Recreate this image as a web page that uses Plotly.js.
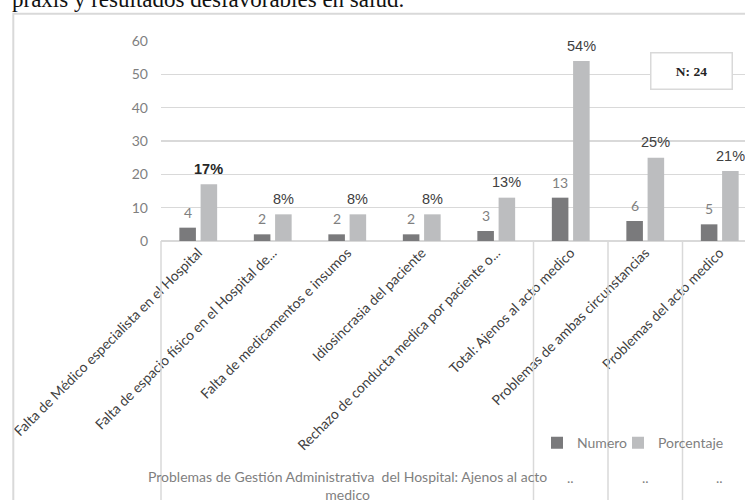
<!DOCTYPE html>
<html><head><meta charset="utf-8">
<script src="https://cdn.plot.ly/plotly-3.0.1.min.js"></script>
<style>html,body{margin:0;padding:0;background:#fff;overflow:hidden}#chart{width:745px;height:500px}</style>
</head><body><div id="chart"></div>
<script>
// ---- data ----
const categories = [
  "Falta de Médico especialista en el Hospital",
  "Falta de espacio físico en el Hospital de...",
  "Falta de medicamentos e insumos",
  "Idiosincrasia del paciente",
  "Rechazo de conducta medica por paciente o...",
  "Total: Ajenos al acto medico",
  "Problemas de ambas circunstancias",
  "Problemas del acto medico"
];
const numero = [4, 2, 2, 2, 3, 13, 6, 5];
const porcentaje = [17, 8, 8, 8, 13, 54, 25, 21];
const seriesNames = ["Numero", "Porcentaje"];
const groupLabels = [
  "Problemas de Gestión Administrativa\u00a0 del Hospital: Ajenos al acto<br>medico",
  "..", "..", ".."
];
const groupSizes = [5, 1, 1, 1];
const yTickValues = [0, 10, 20, 30, 40, 50, 60];
const nLabel = "N: 24";
const topText = "praxis y resultados desfavorables en salud.";

// ---- layout helpers ----
const W = 745, H = 500;
const M = {l: 161, r: 0, t: 40.7, b: 259};
const pw = W - M.l - M.r, ph = H - M.t - M.b;
const catPx = 74.5;
const xRange = [-0.5, -0.5 + pw / catPx];
const bargap = 0.43;
const slotPx = catPx * (1 - bargap) / 2;
const px2x = p => (p - M.l) / pw;
const px2y = p => (H - M.b - p) / ph;
const cat2paper = c => (c - xRange[0]) / (xRange[1] - xRange[0]);
const grid = '#d9d9d9';
const sans = 'Lato, sans-serif';

const traces = [
  {type: 'bar', x: categories, y: numero, name: seriesNames[0], legend: 'legend',
   marker: {color: '#7a7a7c'}, hoverinfo: 'none'},
  {type: 'bar', x: categories, y: porcentaje, name: seriesNames[1], legend: 'legend2',
   marker: {color: '#bcbdbf'}, hoverinfo: 'none'}
];

const annotations = [];
categories.forEach((c, i) => {
  annotations.push({x: c, y: numero[i], xref: 'x', yref: 'y', text: String(numero[i]),
    showarrow: false, xshift: -slotPx / 2, yshift: 15.5, yanchor: 'middle',
    font: {family: sans, size: 14, color: '#7f7f7f'}});
  const bold = i === 0;
  annotations.push({x: c, y: porcentaje[i], xref: 'x', yref: 'y',
    text: bold ? '<b>' + porcentaje[i] + '%</b>' : porcentaje[i] + '%',
    showarrow: false, xshift: slotPx / 2, yshift: 15.5, yanchor: 'middle',
    font: {family: 'Liberation Sans, Arial, sans-serif', size: 14.5, color: bold ? '#262626' : '#404040'}});
});

// group labels and separators
const shapes = [];
let start = 0;
groupLabels.forEach((g, k) => {
  const n = groupSizes[k];
  const center = start + (n - 1) / 2;
  const multi = g.indexOf('<br>') >= 0;
  annotations.push({x: cat2paper(center), xref: 'paper', y: multi ? px2y(486) : px2y(477.5), yref: 'paper',
    text: g, showarrow: false, xanchor: 'center', yanchor: 'middle', align: 'center',
    font: {family: sans, size: 14, color: '#7f7f7f'}});
  const b = start - 0.5;
  shapes.push({type: 'line', xref: 'paper', yref: 'paper', x0: cat2paper(b), x1: cat2paper(b),
    y0: 0, y1: px2y(H + 5), line: {color: grid, width: 1.5}});
  start += n;
});

// frame
shapes.push({type: 'path', xref: 'paper', yref: 'paper',
  path: `M${px2x(13.3)},${px2y(H + 5)} L${px2x(13.3)},${px2y(13.3)} L${px2x(W + 5)},${px2y(13.3)}`,
  line: {color: grid, width: 2}});

// N box
annotations.push({x: px2x(691.3), y: px2y(71.2), xref: 'paper', yref: 'paper', text: '<b>' + nLabel + '</b>',
  showarrow: false, width: 80, height: 35, borderpad: 0, borderwidth: 1.5, bordercolor: grid,
  bgcolor: '#ffffff', xanchor: 'center', yanchor: 'middle',
  font: {family: 'Liberation Serif, Times New Roman, serif', size: 13.5, color: '#222'}});

// top text
annotations.push({x: px2x(10), y: px2y(-0.8), xref: 'paper', yref: 'paper', text: topText,
  showarrow: false, xanchor: 'left', yanchor: 'middle',
  font: {family: 'Liberation Serif, Times New Roman, serif', size: 23, color: '#111'}});

const legendBase = {orientation: 'h', xanchor: 'left', y: px2y(443.5), yanchor: 'middle',
  font: {family: sans, size: 14, color: '#7f7f7f'}, bgcolor: 'rgba(0,0,0,0)'};

const layout = {
  width: W, height: H,
  margin: M,
  paper_bgcolor: '#fff', plot_bgcolor: '#fff',
  barmode: 'group', bargap: bargap, bargroupgap: 0.22,
  showlegend: true,
  legend: Object.assign({}, legendBase, {x: px2x(537)}),
  legend2: Object.assign({}, legendBase, {x: px2x(618)}),
  xaxis: {type: 'category', range: xRange, tickangle: -45, ticks: '', showgrid: false,
    showline: false, zeroline: false, automargin: false,
    tickfont: {family: sans, size: 14, color: '#404040'}},
  yaxis: {range: [0, 60], tickvals: yTickValues, ticks: '', showgrid: true, gridcolor: grid,
    gridwidth: 1.3, zeroline: true, zerolinecolor: grid, zerolinewidth: 1.5, showline: false,
    automargin: false, ticklabelstandoff: 12,
    tickfont: {family: sans, size: 14, color: '#7f7f7f'}},
  annotations: annotations,
  shapes: shapes
};

Plotly.newPlot('chart', traces, layout, {displayModeBar: false, staticPlot: true});
</script>
</body></html>
